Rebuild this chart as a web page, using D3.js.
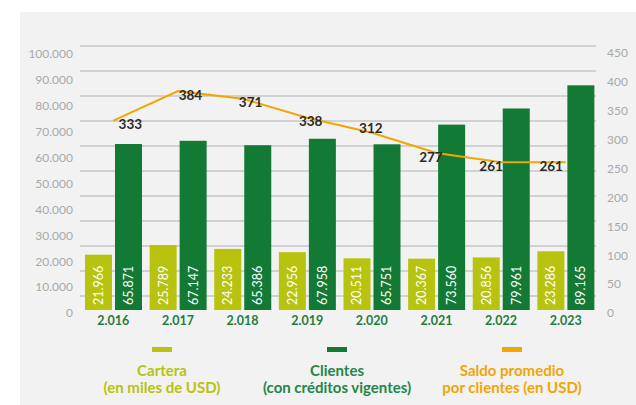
<!DOCTYPE html>
<html>
<head>
<meta charset="utf-8">
<script src="https://cdn.jsdelivr.net/npm/d3@7"></script>
<style>
  body { margin: 0; background: #fff; }
  svg { display: block; font-family: Lato, 'Open Sans', sans-serif; }
</style>
</head>
<body>
<svg id="chart"></svg>
<script>
// datos
const years = ['2.016', '2.017', '2.018', '2.019', '2.020', '2.021', '2.022', '2.023'];
const cartera = [21966, 25789, 24233, 22956, 20511, 20367, 20856, 23286];
const clientes = [65871, 67147, 65386, 67958, 65751, 73560, 79961, 89165];
const saldo = [333, 384, 371, 338, 312, 277, 261, 261];
const leftTicks = [0, 10000, 20000, 30000, 40000, 50000, 60000, 70000, 80000, 90000, 100000];
const rightTicks = [0, 50, 100, 150, 200, 250, 300, 350, 400, 450];
const legendItems = [
  { key: 'cartera', lines: ['Cartera', '(en miles de USD)'] },
  { key: 'clientes', lines: ['Clientes', '(con créditos vigentes)'] },
  { key: 'saldo', lines: ['Saldo promedio', 'por clientes (en USD)'] }
];

const colors = { cartera: '#b7c30e', clientes: '#137a35', saldo: '#f2a600' };
const textColors = { cartera: '#b7c30e', clientes: '#23864a', saldo: '#f2a600' };

const width = 636, height = 405;
const locale = d3.formatLocale({ decimal: ',', thousands: '.', grouping: [3], currency: ['', ''] });
const fmt = locale.format(',d');

const svg = d3.select('#chart')
  .attr('width', width)
  .attr('height', height);

// fondo gris
svg.append('rect')
  .attr('x', 20)
  .attr('y', 12)
  .attr('width', width - 20)
  .attr('height', height - 12)
  .attr('fill', '#f2f2f2');

const x = d3.scaleBand()
  .domain(years)
  .range([81, 598]);
const xSub = d3.scaleBand()
  .domain(['cartera', 'clientes'])
  .range([4, 61])
  .paddingInner(0.1);
const yBar = d3.scaleLinear().domain([0, 100000]).range([310, 58]);
const yLeft = d3.scaleLinear().domain([0, 100000]).range([313, 54]);
const yGrid = d3.scaleLinear().domain([0, 100000]).range([296, 46]);
const yRight = d3.scaleLinear().domain([0, 450]).range([313, 53]);

// lineas de grilla
svg.append('g')
  .selectAll('line')
  .data(leftTicks)
  .enter()
  .append('line')
  .attr('x1', 80)
  .attr('x2', 596)
  .attr('y1', function (d) { return yGrid(d); })
  .attr('y2', function (d) { return yGrid(d); })
  .attr('stroke', '#c6c6c6')
  .attr('stroke-width', 1.3);

// ejes
const axisL = svg.append('g')
  .attr('transform', 'translate(80,0)')
  .call(d3.axisLeft(yLeft).tickValues(leftTicks).tickSize(0).tickPadding(7).tickFormat(fmt));
const axisR = svg.append('g')
  .attr('transform', 'translate(600,0)')
  .call(d3.axisRight(yRight).tickValues(rightTicks).tickSize(0).tickPadding(7));
[axisL, axisR].forEach(function (g) {
  g.select('.domain').remove();
  g.selectAll('text')
    .attr('fill', '#a9a9a9')
    .attr('font-size', '12px')
    .attr('font-family', 'Lato, sans-serif');
});

// barras
const group = svg.selectAll('.year')
  .data(years)
  .enter()
  .append('g')
  .attr('class', 'year')
  .attr('transform', function (d) { return 'translate(' + x(d) + ',0)'; });

['cartera', 'clientes'].forEach(function (key) {
  const values = key === 'cartera' ? cartera : clientes;
  group.append('rect')
    .attr('x', xSub(key))
    .attr('width', xSub.bandwidth())
    .attr('y', function (d, i) { return yBar(values[i]); })
    .attr('height', function (d, i) { return yBar(0) - yBar(values[i]); })
    .attr('fill', colors[key]);
  group.append('text')
    .attr('transform', function (d, i) {
      return 'translate(' + (xSub(key) + xSub.bandwidth() / 2) + ',' + (yBar(0) - 5) + ') rotate(-90)';
    })
    .attr('dy', '0.35em')
    .attr('fill', '#fff')
    .attr('font-size', '12.5px')
    .text(function (d, i) { return fmt(values[i]); });
});

// etiquetas de años
group.append('text')
  .attr('x', x.bandwidth() / 2)
  .attr('y', 321)
  .attr('dy', '0.35em')
  .attr('text-anchor', 'middle')
  .attr('fill', '#1f7d3d')
  .attr('font-size', '12.5px')
  .attr('font-weight', 'bold')
  .text(function (d) { return d; });

// linea de saldo promedio
const line = d3.line()
  .x(function (d, i) { return x(years[i]) + x.bandwidth() / 2; })
  .y(function (d) { return yRight(d); });
svg.append('path')
  .datum(saldo)
  .attr('d', line)
  .attr('fill', 'none')
  .attr('stroke', colors.saldo)
  .attr('stroke-width', 2);

// etiquetas: debajo de la linea, salvo cuando la linea baja (encima)
svg.append('g')
  .selectAll('text')
  .data(saldo)
  .enter()
  .append('text')
  .attr('x', function (d, i) { return x(years[i]) + x.bandwidth() / 2 + 17 - i * 4.5; })
  .attr('y', function (d, i) { return yRight(d) + (i === 4 ? -4 : 4); })
  .attr('dy', '0.35em')
  .attr('text-anchor', 'middle')
  .attr('fill', '#2a2a2a')
  .attr('font-size', '13.5px')
  .attr('font-weight', 'bold')
  .text(function (d) { return d; });

// leyenda
const legendX = d3.scalePoint()
  .domain(legendItems.map(function (d) { return d.key; }))
  .range([162, 512]);
const legend = svg.selectAll('.legend')
  .data(legendItems)
  .enter()
  .append('g')
  .attr('class', 'legend')
  .attr('transform', function (d) { return 'translate(' + legendX(d.key) + ',0)'; });
legend.append('rect')
  .attr('x', -10)
  .attr('y', 347)
  .attr('width', 20)
  .attr('height', 5)
  .attr('fill', function (d) { return colors[d.key]; });
legend.append('text')
  .attr('text-anchor', 'middle')
  .attr('fill', function (d) { return textColors[d.key]; })
  .attr('font-size', '15px')
  .attr('font-weight', 'bold')
  .selectAll('tspan')
  .data(function (d) { return d.lines; })
  .enter()
  .append('tspan')
  .attr('x', 0)
  .attr('y', function (d, i) { return 371 + i * 16.5; })
  .attr('dy', '0.35em')
  .text(function (d) { return d; });
</script>
</body>
</html>
